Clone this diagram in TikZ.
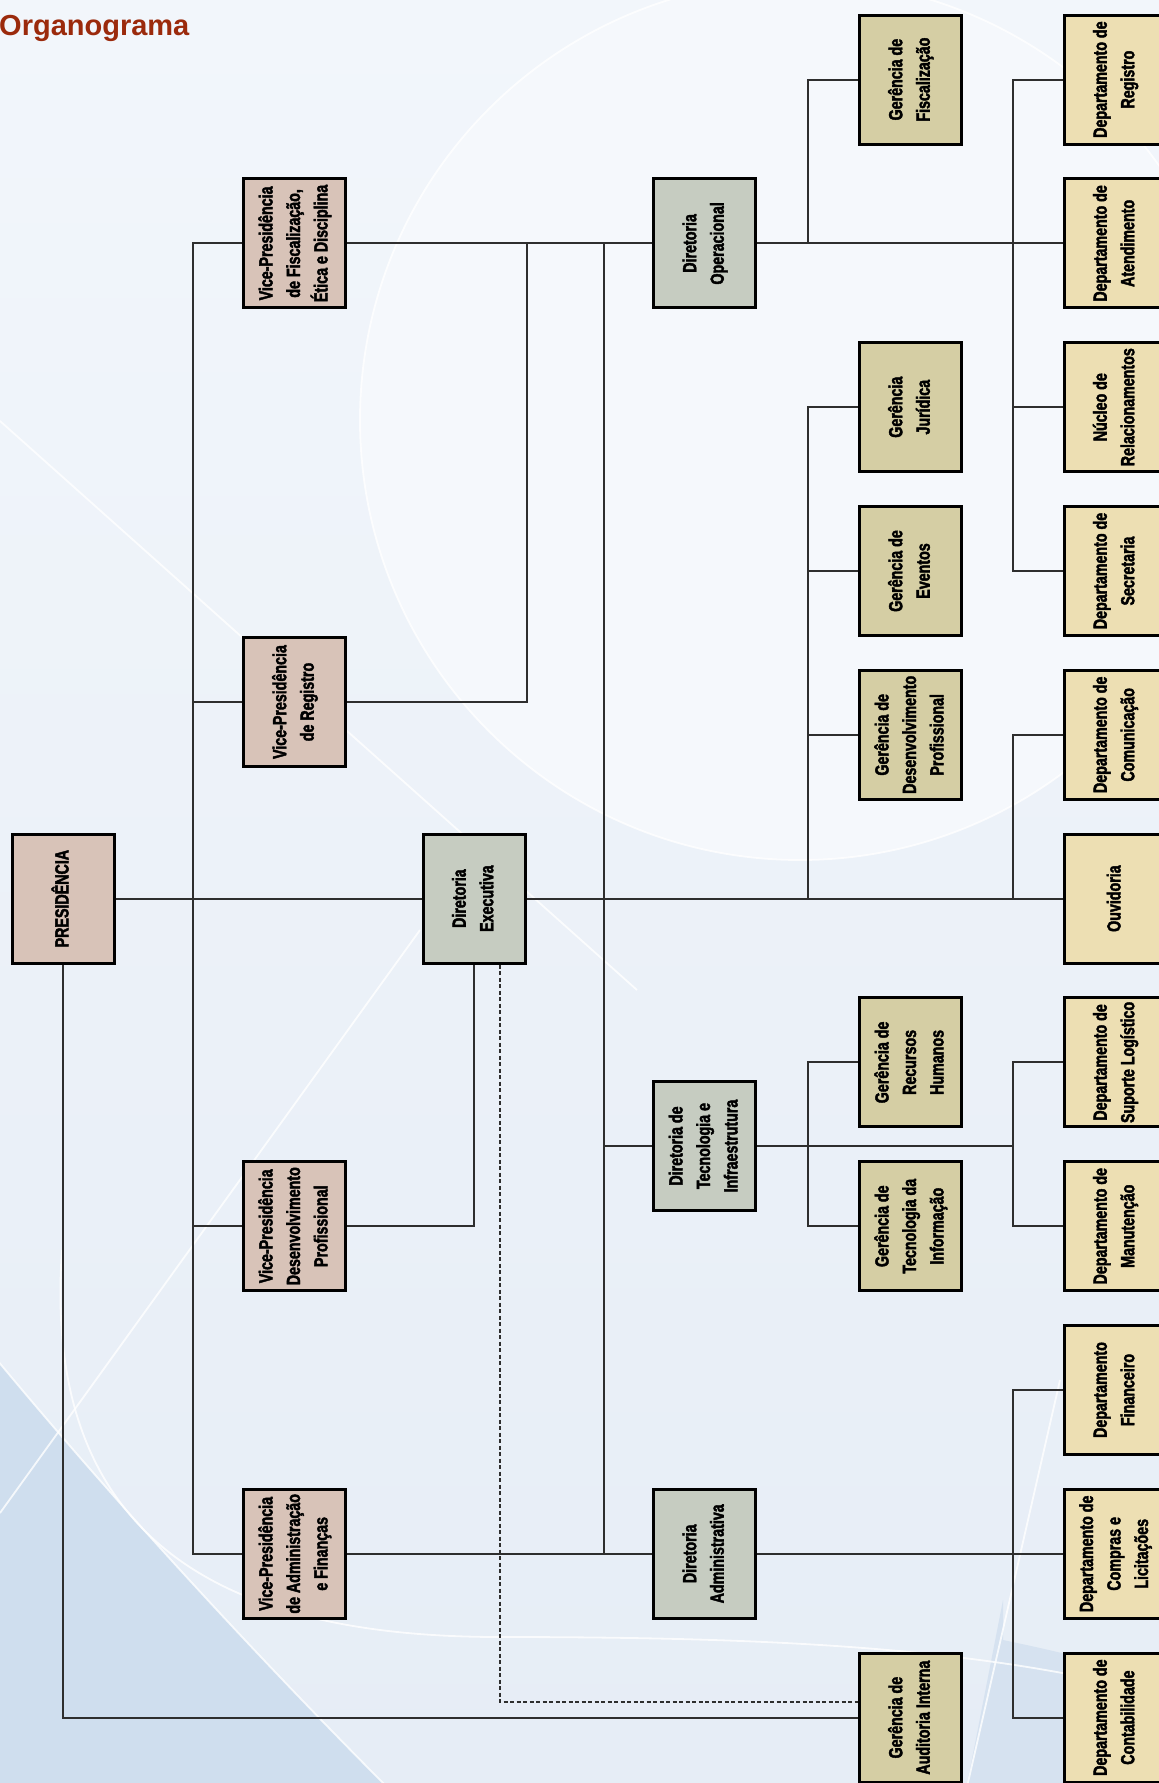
\documentclass[tikz,border=0pt]{standalone}
\usepackage{fontspec}
\setmainfont{Liberation Sans}
\newfontfamily\condfont{Liberation Sans Bold}[FakeStretch=0.75, FakeBold=2.2]
\newfontfamily\titlefont{Liberation Sans Bold}
\usetikzlibrary{calc}
\definecolor{bgtop}{HTML}{F2F6FB}
\definecolor{bgbot}{HTML}{E6EDF6}
\definecolor{bglight}{HTML}{F5F8FC}
\definecolor{bgblue}{HTML}{CFDEEE}
\definecolor{vpcol}{HTML}{D8C3B8}
\definecolor{dircol}{HTML}{C6CCC1}
\definecolor{gercol}{HTML}{D5CEA4}
\definecolor{depcol}{HTML}{EDDFB3}
\definecolor{linecol}{HTML}{2E2E2E}
\definecolor{titlecol}{HTML}{9B2A0C}
\newcommand{\rt}[1]{\rotatebox{90}{\begin{tabular}{@{}c@{}}#1\end{tabular}}}
\tikzset{
  box/.style={draw=black, line width=3pt, minimum width=102pt, minimum height=129pt,
    inner sep=0pt, font=\condfont\fontsize{19}{27.5}\selectfont, text=black},
  vp/.style={box, fill=vpcol},
  dir/.style={box, fill=dircol},
  ger/.style={box, fill=gercol},
  dep/.style={box, fill=depcol},
  conn/.style={line width=1.9pt, draw=linecol},
  dashconn/.style={line width=1.6pt, draw=linecol, dash pattern=on 4pt off 2.5pt},
  deco/.style={draw=white, line width=1.8pt, opacity=0.8}
}
\begin{document}
\begin{tikzpicture}[x=1pt,y=-1pt]
\useasboundingbox (0,0) rectangle (1159,1783);
\begin{scope}
\clip (0,0) rectangle (1159,1783);
% background
\shade[top color=bgtop, bottom color=bgbot] (0,0) rectangle (1159,1783);
\fill[bglight] (800,420) circle (440);
\fill[bgblue] (-60,1290) .. controls (60,1440) and (217,1617) .. (400,1800) -- (-60,1800) -- cycle;
\fill[bgblue!70!bgbot] (1003,1600) -- (964,1800) -- (1180,1800) -- (1180,1690) .. controls (1100,1660) and (1050,1650) .. (1003,1640) -- cycle;
\draw[deco] (800,420) circle (440);
\draw[deco] (0,421) -- (637,990);
\draw[deco] (-60,1290) .. controls (60,1440) and (217,1617) .. (400,1800);
\draw[deco] (0,1513) -- (420,930);
\draw[deco] (62,1250) .. controls (40,1560) and (250,1637) .. (500,1637) .. controls (800,1637) and (1000,1650) .. (1180,1700);
\draw[deco] (964,1800) -- (1060,1380);
\end{scope}

% title
\node[anchor=base west, inner sep=0pt, text=titlecol, font=\titlefont\fontsize{29}{36}\selectfont] (title) at (-1,35) {Organograma};

\node[vp] (pres) at (63,898.6) {\rt{PRESIDÊNCIA}};
\node[vp] (vpfis) at (294.5,243.4) {\rt{Vice-Presidência\\de Fiscalização,\\Ética e Disciplina}};
\node[vp] (vpreg) at (294.5,702) {\rt{Vice-Presidência\\de Registro}};
\node[vp] (vpdev) at (294.5,1226.2) {\rt{Vice-Presidência\\Desenvolvimento\\Profissional}};
\node[vp] (vpadm) at (294.5,1553.8) {\rt{Vice-Presidência\\de Administração\\e Finanças}};

\node[dir] (dexe) at (474,898.6) {\rt{Diretoria\\Executiva}};
\node[dir] (dop) at (704.5,243.4) {\rt{Diretoria\\Operacional}};
\node[dir] (dti) at (704.5,1146) {\rt{Diretoria de\\Tecnologia e\\Infraestrutura}};
\node[dir] (dadm) at (704.5,1553.8) {\rt{Diretoria\\Administrativa}};

\node[ger] (gfis) at (910.5,79.6) {\rt{Gerência de\\Fiscalização}};
\node[ger] (gjur) at (910.5,407.2) {\rt{Gerência\\Jurídica}};
\node[ger] (gev) at (910.5,571) {\rt{Gerência de\\Eventos}};
\node[ger] (gdp) at (910.5,734.8) {\rt{Gerência de\\Desenvolvimento\\Profissional}};
\node[ger] (grh) at (910.5,1062.4) {\rt{Gerência de\\Recursos\\Humanos}};
\node[ger] (gti) at (910.5,1226.2) {\rt{Gerência de\\Tecnologia da\\Informação}};
\node[ger] (gai) at (910.5,1717.6) {\rt{Gerência de\\Auditoria Interna}};

\node[dep] (dreg) at (1115,79.6) {\rt{Departamento de\\Registro}};
\node[dep] (date) at (1115,243.4) {\rt{Departamento de\\Atendimento}};
\node[dep] (dnuc) at (1115,407.2) {\rt{Núcleo de\\Relacionamentos}};
\node[dep] (dsec) at (1115,571) {\rt{Departamento de\\Secretaria}};
\node[dep] (dcom) at (1115,734.8) {\rt{Departamento de\\Comunicação}};
\node[dep] (ouv) at (1115,898.6) {\rt{Ouvidoria}};
\node[dep] (dsup) at (1115,1062.4) {\rt{Departamento de\\Suporte Logístico}};
\node[dep] (dman) at (1115,1226.2) {\rt{Departamento de\\Manutenção}};
\node[dep] (dfin) at (1115,1390) {\rt{Departamento\\Financeiro}};
\node[dep] (dcomp) at (1115,1553.8) {\rt{Departamento de\\Compras e\\Licitações}};
\node[dep] (dcont) at (1115,1717.6) {\rt{Departamento de\\Contabilidade}};

% riser x-positions
\coordinate (trunk) at (193,0);
\coordinate (regx) at (527,0);
\coordinate (dirx) at (604,0);
\coordinate (ex) at (808,0);
\coordinate (fx) at (1013,0);

% Presidencia
\draw[conn] (pres.east) -- (dexe.west);
\draw[conn] (pres.south) |- (gai.west);
\draw[conn] (vpfis.west) -- (vpfis.west -| trunk) -- (vpadm.west -| trunk) -- (vpadm.west);
\draw[conn] (vpreg.west) -- (vpreg.west -| trunk);
\draw[conn] (vpdev.west) -- (vpdev.west -| trunk);

% VPs to diretorias
\draw[conn] (vpfis.east) -- (dop.west);
\draw[conn] (vpreg.east) -- (vpreg.east -| regx) -- (vpfis.east -| regx);
\draw[conn] (vpfis.east -| dirx) -- (vpadm.east -| dirx);
\draw[conn] (dti.west) -- (dti.west -| dirx);
\draw[conn] (vpadm.east) -- (dadm.west);

% Diretoria Executiva
\draw[conn] (dexe.south) |- (vpdev.east);
\draw[dashconn] ($(dexe.south)+(26,0)$) |- ($(gai.west)+(0,-15.6)$);
\draw[conn] (dexe.east) -- (ouv.west);
\draw[conn] (gjur.west) -- (gjur.west -| ex) -- (dexe.east -| ex);
\draw[conn] (gev.west) -- (gev.west -| ex);
\draw[conn] (gdp.west) -- (gdp.west -| ex);
\draw[conn] (dcom.west) -- (dcom.west -| fx) -- (dexe.east -| fx);

% Diretoria Operacional
\draw[conn] (dop.east) -- (date.west);
\draw[conn] (gfis.west) -- (gfis.west -| ex) -- (dop.east -| ex);
\draw[conn] (dreg.west) -- (dreg.west -| fx) -- (dsec.west -| fx) -- (dsec.west);
\draw[conn] (dnuc.west) -- (dnuc.west -| fx);

% Diretoria de Tecnologia
\draw[conn] (dti.east) -- (dti.east -| fx);
\draw[conn] (grh.west) -- (grh.west -| ex) -- (gti.west -| ex) -- (gti.west);
\draw[conn] (dsup.west) -- (dsup.west -| fx) -- (dman.west -| fx) -- (dman.west);

% Diretoria Administrativa
\draw[conn] (dadm.east) -- (dcomp.west);
\draw[conn] (dfin.west) -- (dfin.west -| fx) -- (dcont.west -| fx) -- (dcont.west);
\end{tikzpicture}
\end{document}
